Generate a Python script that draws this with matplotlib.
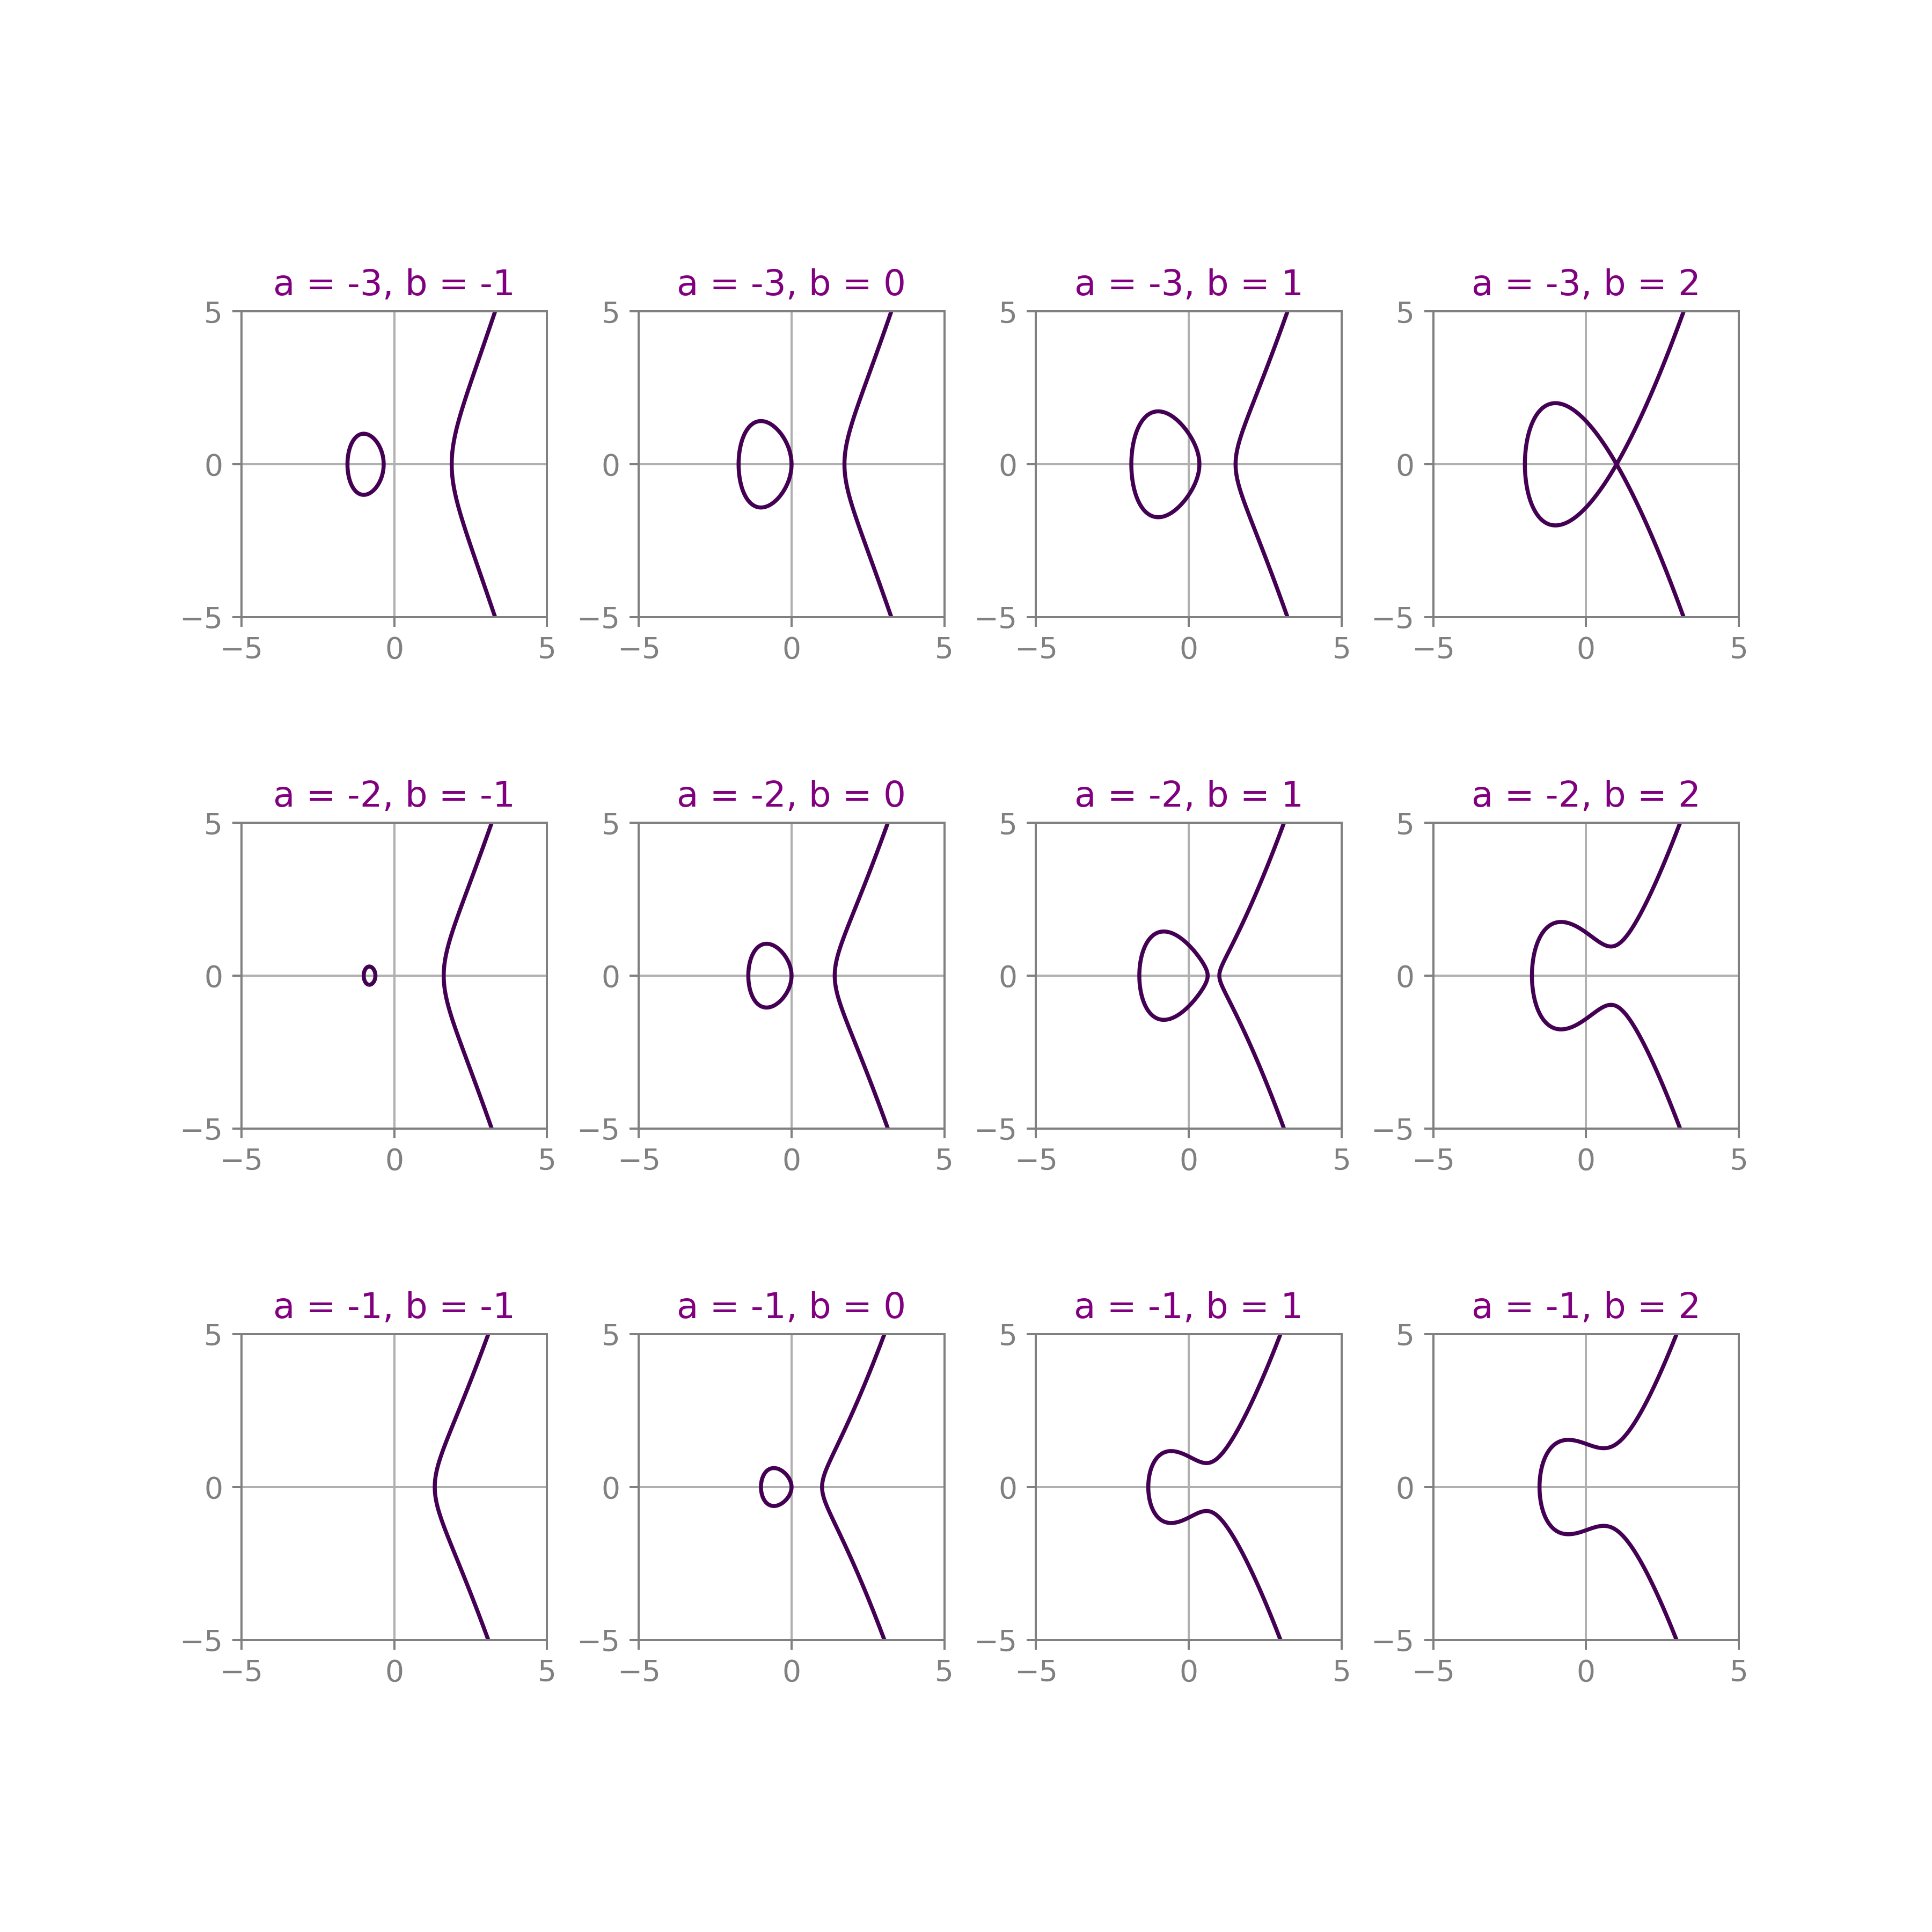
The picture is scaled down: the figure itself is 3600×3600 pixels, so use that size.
import numpy as np
import matplotlib
matplotlib.use("Agg")
import matplotlib.pyplot as plt

# Curve parameters: y^2 = x^3 + a*x + b
a_values = [-3, -2, -1]
b_values = [-1, 0, 1, 2]
tick_values = [-5, 0, 5]
x_range = (-5, 5)
y_range = (-5, 5)

curve_color = "#440154"
title_color = "purple"
axis_color = "gray"

plt.rcParams["font.size"] = 11

fig, axes = plt.subplots(len(a_values), len(b_values), figsize=(10, 10), dpi=360)
fig.subplots_adjust(left=0.125, right=0.9, bottom=0.11, top=0.88, wspace=0.3, hspace=0.1)

x = np.linspace(x_range[0], x_range[1], 800)
y = np.linspace(y_range[0], y_range[1], 800)
X, Y = np.meshgrid(x, y)

for i, a in enumerate(a_values):
    for j, b in enumerate(b_values):
        ax = axes[i, j]
        F = Y**2 - X**3 - a * X - b
        ax.contour(X, Y, F, levels=[0], colors=curve_color, linewidths=1.5)
        ax.set_xlim(*x_range)
        ax.set_ylim(*y_range)
        ax.set_aspect("equal")
        ax.set_xticks(tick_values)
        ax.set_yticks(tick_values)
        ax.grid(True, color="#b0b0b0", linewidth=0.8)
        ax.set_axisbelow(True)
        for s in ax.spines.values():
            s.set_color(axis_color)
        ax.tick_params(colors=axis_color)
        ax.set_title(f"a = {a}, b = {b}", color=title_color, fontsize="large")

fig.savefig("out.png", dpi=360)
